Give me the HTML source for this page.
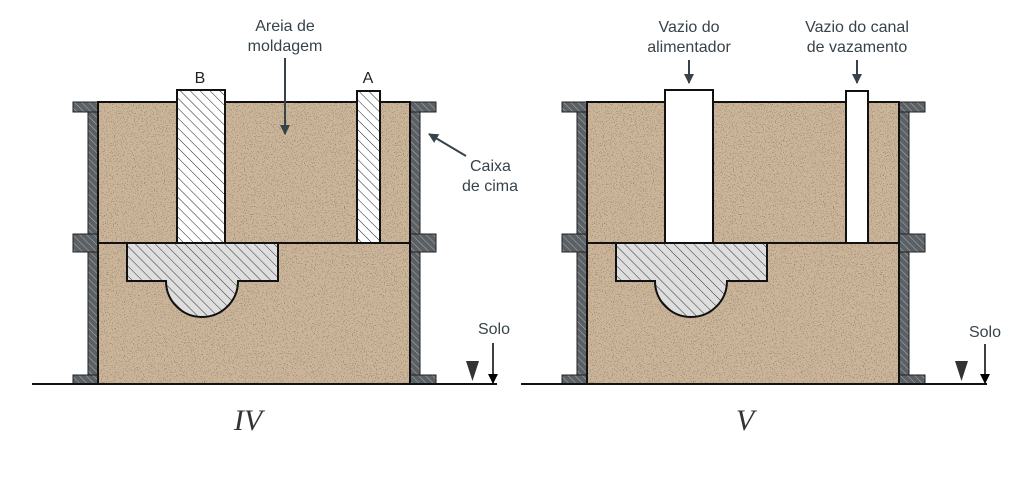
<!DOCTYPE html>
<html><head><meta charset="utf-8"><style>
html,body{margin:0;padding:0;background:#fff;width:1024px;height:502px;overflow:hidden}
svg text{font-family:"Liberation Sans",sans-serif;fill:#37434b;font-size:16px}
</style></head><body>
<svg width="1024" height="502" viewBox="0 0 1024 502" xmlns="http://www.w3.org/2000/svg">
<defs>
<pattern id="hw" width="5" height="5" patternUnits="userSpaceOnUse" patternTransform="rotate(-45)">
<rect width="5" height="5" fill="#5b6064"/><line x1="0" y1="0" x2="0" y2="5" stroke="#a0a6aa" stroke-width="1.2"/>
</pattern>
<pattern id="hp" width="7" height="7" patternUnits="userSpaceOnUse" patternTransform="rotate(-45)">
<rect width="7" height="7" fill="#fff"/><line x1="0" y1="0" x2="0" y2="7" stroke="#222" stroke-width="1"/>
</pattern>
<pattern id="hc" width="7" height="7" patternUnits="userSpaceOnUse" patternTransform="rotate(-45)">
<rect width="7" height="7" fill="#dedede"/><line x1="0" y1="0" x2="0" y2="7" stroke="#333" stroke-width="1"/>
</pattern>
<filter id="speck" x="0" y="0" width="100%" height="100%">
<feTurbulence type="fractalNoise" baseFrequency="0.9" numOctaves="1" seed="3" result="n"/>
<feColorMatrix in="n" type="matrix" values="0 0 0 0 0.3  0 0 0 0 0.25  0 0 0 0 0.2  0 0 0 30 -18.6" result="d"/>
<feComposite in="d" in2="SourceGraphic" operator="in" result="dd"/>
<feMerge><feMergeNode in="SourceGraphic"/><feMergeNode in="dd"/></feMerge>
</filter>
<marker id="ah" markerWidth="10" markerHeight="10" refX="9" refY="5" orient="auto" markerUnits="userSpaceOnUse"><path d="M0,0 L10,5 L0,10 Z" fill="#37434b"/></marker>
<marker id="ak" markerWidth="10" markerHeight="10" refX="9" refY="5" orient="auto" markerUnits="userSpaceOnUse"><path d="M0,0 L10,5 L0,10 Z" fill="#000"/></marker>
<g id="flask">
<rect x="98" y="102" width="312" height="282" fill="#cbb497" filter="url(#speck)"/>
<g fill="url(#hw)" stroke="#222" stroke-width="1">
<rect x="88" y="102" width="10" height="282"/>
<rect x="73" y="102" width="25" height="10"/>
<rect x="73" y="234" width="25" height="18"/>
<rect x="73" y="375" width="25" height="9"/>
<rect x="410" y="102" width="10" height="282"/>
<rect x="410" y="102" width="26" height="10"/>
<rect x="410" y="234" width="26" height="18"/>
<rect x="410" y="375" width="26" height="9"/>
</g>
<rect x="98" y="102" width="312" height="282" fill="none" stroke="#111" stroke-width="2"/>
<line x1="98" y1="243" x2="410" y2="243" stroke="#111" stroke-width="2"/>
<path d="M127,243 H278 V281 H238 A36,36 0 0 1 166,281 H127 Z" fill="url(#hc)" stroke="#111" stroke-width="2"/>
<path d="M466,361 H479 L472.5,381 Z" fill="#333"/>
</g>
</defs>

<use href="#flask"/>
<line x1="32" y1="384" x2="497" y2="384" stroke="#111" stroke-width="2"/>
<rect x="177" y="90" width="48" height="153" fill="url(#hp)" stroke="#111" stroke-width="2"/>
<rect x="357" y="91" width="23" height="152" fill="url(#hp)" stroke="#111" stroke-width="2"/>
<line x1="493" y1="343" x2="493" y2="383" stroke="#000" stroke-width="1.5" marker-end="url(#ak)"/>
<text x="494" y="334" text-anchor="middle">Solo</text>
<text x="200" y="83" text-anchor="middle" font-size="17" style="fill:#222">B</text>
<text x="368" y="83" text-anchor="middle" font-size="17" style="fill:#222">A</text>
<text x="285" y="31" text-anchor="middle">Areia de</text>
<text x="285" y="51" text-anchor="middle">moldagem</text>
<line x1="285" y1="58" x2="285" y2="134" stroke="#37434b" stroke-width="2" marker-end="url(#ah)"/>
<line x1="466" y1="156" x2="429" y2="134" stroke="#37434b" stroke-width="2" marker-end="url(#ah)"/>
<text x="470" y="171">Caixa</text>
<text x="462" y="191">de cima</text>
<text x="248" y="430" text-anchor="middle" style="font-family:'Liberation Serif',serif;font-style:italic;fill:#333;font-size:30px">IV</text>

<use href="#flask" x="489"/>
<line x1="521" y1="384" x2="987" y2="384" stroke="#111" stroke-width="2"/>
<rect x="665" y="90" width="48" height="153" fill="#fff" stroke="#111" stroke-width="2"/>
<rect x="846" y="91" width="22" height="152" fill="#fff" stroke="#111" stroke-width="2"/>
<line x1="985" y1="344" x2="985" y2="383" stroke="#000" stroke-width="1.5" marker-end="url(#ak)"/>
<text x="985" y="337" text-anchor="middle">Solo</text>
<text x="689" y="32" text-anchor="middle">Vazio do</text>
<text x="689" y="52" text-anchor="middle">alimentador</text>
<line x1="689" y1="60" x2="689" y2="83" stroke="#37434b" stroke-width="2" marker-end="url(#ah)"/>
<text x="857" y="32" text-anchor="middle">Vazio do canal</text>
<text x="857" y="52" text-anchor="middle">de vazamento</text>
<line x1="857" y1="60" x2="857" y2="83" stroke="#37434b" stroke-width="2" marker-end="url(#ah)"/>
<text x="745" y="430" text-anchor="middle" style="font-family:'Liberation Serif',serif;font-style:italic;fill:#333;font-size:30px">V</text>
</svg>
</body></html>
